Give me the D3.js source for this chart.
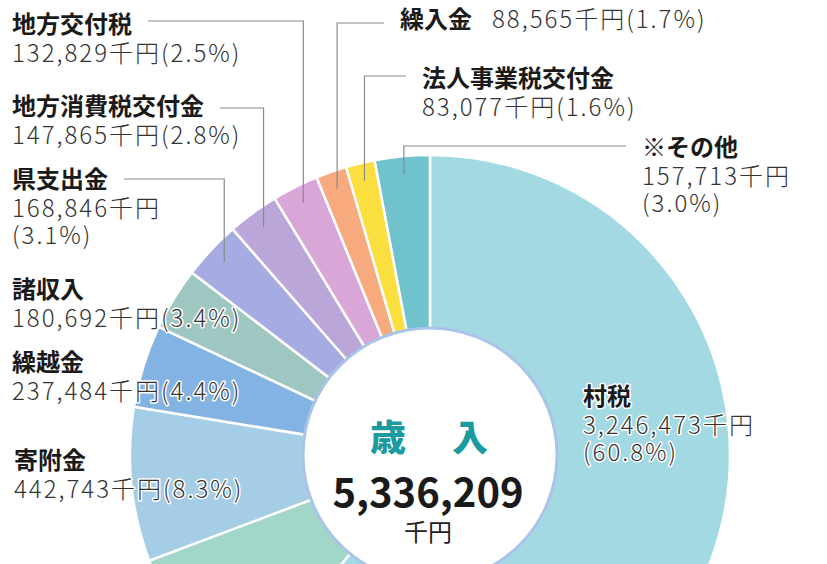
<!DOCTYPE html>
<html>
<head>
<meta charset="utf-8">
<script src="https://cdn.jsdelivr.net/npm/d3@7"></script>
<style>
  html, body { margin: 0; padding: 0; background: #fff; }
  svg { display: block; }
  .ttl { font-family: "Noto Sans CJK JP", sans-serif; font-weight: 700; font-size: 24px; fill: #1a1a1a; }
  .num { font-family: "Noto Sans CJK JP", sans-serif; font-weight: 300; font-size: 24px; fill: #333; letter-spacing: 2px; }
  .halo { paint-order: stroke; stroke: #fff; stroke-width: 3px; stroke-linejoin: round; }
</style>
</head>
<body>
<svg id="chart"></svg>
<script>
// 歳入 data, clockwise from 12 o'clock
const categories = ["村税", "国庫支出金", "寄附金", "繰越金", "諸収入", "県支出金",
  "地方消費税交付金", "地方交付税", "繰入金", "法人事業税交付金", "※その他"];
const values = [3246473, 449922, 442743, 237484, 180692, 168846,
  147865, 132829, 88565, 83077, 157713];
const pctLabels = ["60.8%", "8.4%", "8.3%", "4.4%", "3.4%", "3.1%",
  "2.8%", "2.5%", "1.7%", "1.6%", "3.0%"];
const sliceColors = ["#a3d9e2", "#a2d6c9", "#a5cde6", "#82b3e3", "#9ec7c2", "#a6abe1",
  "#bba6da", "#d9a6d8", "#f6aa7e", "#fadf3e", "#70c2cc"];
const total = 5336209;

const width = 827, height = 564;
const cx = 430, cy = 455;
const outerR = 300, innerR = 127;

const svg = d3.select("#chart")
  .attr("width", width)
  .attr("height", height)
  .attr("viewBox", [0, 0, width, height].join(" "));

const fmt = d3.format(",");

const slices = d3.pie()
  .sort(null)
  .value(d => d.value)
  .startAngle(0)
  .endAngle(2 * Math.PI)(categories.map((c, i) => ({ name: c, value: values[i], i })));

const arc = d3.arc().innerRadius(0).outerRadius(outerR);

const g = svg.append("g").attr("transform", `translate(${cx},${cy})`);

g.selectAll("path.slice")
  .data(slices)
  .join("path")
  .attr("class", "slice")
  .attr("d", arc)
  .attr("fill", d => sliceColors[d.data.i])
  .attr("stroke", "#fff")
  .attr("stroke-width", 2.5);

// centre disc
g.append("circle")
  .attr("r", innerR)
  .attr("fill", "#fff")
  .attr("stroke", "#a9c3ea")
  .attr("stroke-width", 3);

g.append("text")
  .attr("x", -42).attr("y", -4)
  .attr("text-anchor", "middle")
  .style("font-family", "Noto Sans CJK JP").style("font-weight", 900)
  .style("font-size", "36px").style("fill", "#1b9aa0")
  .text("歳");
g.append("text")
  .attr("x", 40).attr("y", -4)
  .attr("text-anchor", "middle")
  .style("font-family", "Noto Sans CJK JP").style("font-weight", 900)
  .style("font-size", "36px").style("fill", "#1b9aa0")
  .text("入");
g.append("text")
  .attr("x", -2).attr("y", 52)
  .attr("text-anchor", "middle")
  .style("font-family", "Noto Sans CJK JP").style("font-weight", 700)
  .style("font-size", "40px").style("fill", "#1a1a1a")
  .text(fmt(total));
g.append("text")
  .attr("x", -2).attr("y", 86)
  .attr("text-anchor", "middle")
  .style("font-family", "Noto Sans CJK JP").style("font-weight", 400)
  .style("font-size", "24px").style("fill", "#222")
  .text("千円");

// label layout: index into data, title pos, row count, leader side
const labelLayout = [
  { i: 0, x: 583, y: 405, rows: 3 },
  { i: 2, x: 14, y: 469, rows: 2 },
  { i: 3, x: 12, y: 371, rows: 2 },
  { i: 4, x: 12, y: 298, rows: 2 },
  { i: 5, x: 12, y: 188, rows: 3, leader: "left", ly: 179 },
  { i: 6, x: 12, y: 115, rows: 2, leader: "left", ly: 108 },
  { i: 7, x: 12, y: 33, rows: 2, leader: "left", ly: 21 },
  { i: 8, x: 400, y: 28, rows: 1, leader: "right", ly: 23 },
  { i: 9, x: 422, y: 87, rows: 2, leader: "right", ly: 76 },
  { i: 10, x: 642, y: 156, rows: 3, leader: "right", ly: 146 }
];
const rowGap = 29;
const leaderR = 282;

const labels = svg.append("g").attr("class", "labels");
const leaders = svg.insert("g", ".labels").attr("class", "leaders");

labelLayout.forEach(l => {
  const name = categories[l.i];
  const yen = fmt(values[l.i]) + "千円";
  const pct = "(" + pctLabels[l.i] + ")";

  const ttl = labels.append("text")
    .attr("class", "ttl halo")
    .attr("x", l.x).attr("y", l.y)
    .text(name);

  if (l.rows === 1) {
    labels.append("text")
      .attr("class", "num halo")
      .attr("x", l.x + ttl.node().getComputedTextLength() + 20)
      .attr("y", l.y)
      .text(yen + pct);
  } else if (l.rows === 2) {
    labels.append("text")
      .attr("class", "num halo")
      .attr("x", l.x).attr("y", l.y + rowGap)
      .text(yen + pct);
  } else {
    labels.append("text")
      .attr("class", "num halo")
      .attr("x", l.x).attr("y", l.y + rowGap)
      .text(yen);
    labels.append("text")
      .attr("class", "num halo")
      .attr("x", l.x).attr("y", l.y + rowGap * 2 - 2)
      .text(pct);
  }

  if (l.leader) {
    const s = slices[l.i];
    const mid = (s.startAngle + s.endAngle) / 2;
    const px = cx + leaderR * Math.sin(mid);
    const py = cy - leaderR * Math.cos(mid);
    const hx = l.leader === "left"
      ? l.x + ttl.node().getComputedTextLength() + 16
      : l.x - 16;
    leaders.append("path")
      .attr("d", `M${hx},${l.ly}H${px}V${py}`)
      .attr("fill", "none")
      .attr("stroke", "#8a8a8a")
      .attr("stroke-width", 1.2);
  }
});
</script>
</body>
</html>
